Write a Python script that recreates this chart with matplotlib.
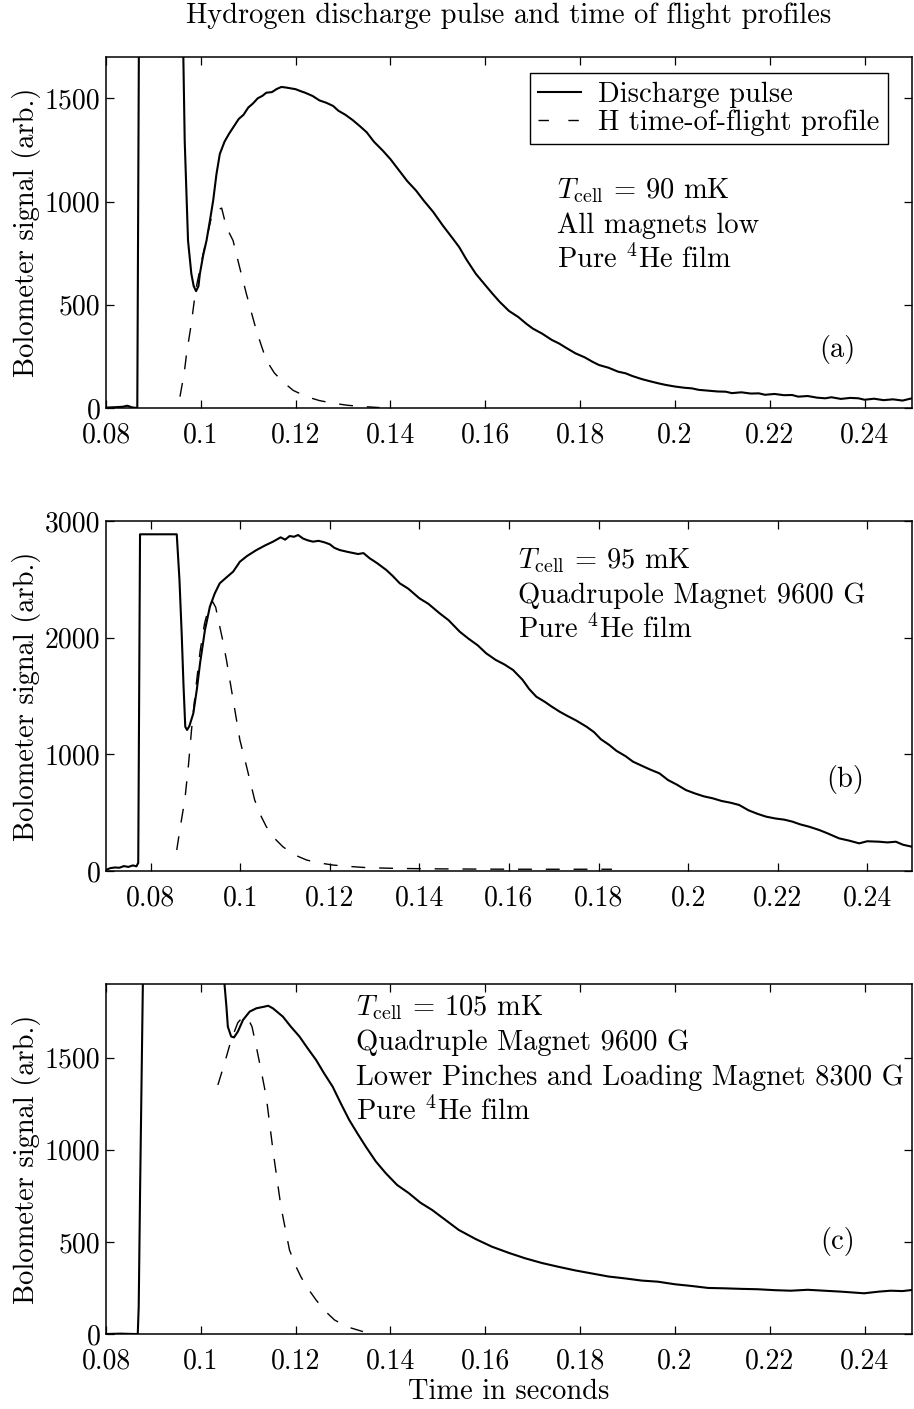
import matplotlib
matplotlib.use("Agg")
import matplotlib.pyplot as plt

plt.rcParams["font.family"] = ["cmr10", "DejaVu Serif"]
plt.rcParams["mathtext.fontset"] = "cm"
plt.rcParams["axes.formatter.use_mathtext"] = True
plt.rcParams["axes.unicode_minus"] = False

# ---------------- data ----------------
title = "Hydrogen discharge pulse and time of flight profiles"
xlabel = "Time in seconds"
ylabel = "Bolometer signal (arb.)"
legend_labels = ["Discharge pulse", "H time-of-flight profile"]

xticks = [0.08, 0.10, 0.12, 0.14, 0.16, 0.18, 0.20, 0.22, 0.24]
xticklabels = ["0.08", "0.1", "0.12", "0.14", "0.16", "0.18", "0.2", "0.22", "0.24"]

# panel (a)
a_pulse_t = [0.0800, 0.0820, 0.0835, 0.0845, 0.0855, 0.0866, 0.0871, 0.0958, 0.0961, 0.0966,
             0.0973, 0.0980, 0.0985, 0.0990, 0.0995, 0.0998, 0.1005, 0.1012, 0.1019, 0.1026,
             0.1033, 0.1040, 0.1050, 0.1060, 0.1068, 0.1080, 0.1090, 0.1100, 0.1110, 0.1120,
             0.1130, 0.1138, 0.1150, 0.1160, 0.1170, 0.1180, 0.1190, 0.1200, 0.1210, 0.1220,
             0.1236, 0.1250, 0.1265, 0.1279, 0.1290, 0.1305, 0.1320, 0.1335, 0.1350, 0.1365,
             0.1384, 0.1400, 0.1420, 0.1435, 0.1454, 0.1470, 0.1490, 0.1510, 0.1530, 0.1545,
             0.1560, 0.1580, 0.1600, 0.1615, 0.1630, 0.1650, 0.1670, 0.1686, 0.1700, 0.1720,
             0.1740, 0.1756, 0.1770, 0.1790, 0.1810, 0.1826, 0.1840, 0.1860, 0.1880, 0.1896,
             0.1910, 0.1930, 0.1950, 0.1966, 0.1980, 0.2000, 0.2020, 0.2036, 0.2050, 0.2070,
             0.2090, 0.2107, 0.2120, 0.2140, 0.2160, 0.2177, 0.2190, 0.2210, 0.2230, 0.2247,
             0.2260, 0.2280, 0.2300, 0.2317, 0.2330, 0.2350, 0.2370, 0.2387, 0.2400, 0.2420,
             0.2440, 0.2460, 0.2480, 0.2500]
a_pulse_v = [2, 4, 6, 11, 3, 0, 2600, 2600, 2000, 1294,
             811, 650, 590, 566, 590, 650, 740, 811, 905, 1004,
             1133, 1230, 1290, 1330, 1358, 1400, 1420, 1455, 1475, 1500,
             1512, 1527, 1530, 1545, 1555, 1552, 1548, 1544, 1535, 1527,
             1511, 1490, 1478, 1463, 1440, 1420, 1395, 1366, 1335, 1290,
             1246, 1205, 1145, 1100, 1053, 1005, 950, 885, 825, 779,
             720, 650, 595, 554, 515, 470, 440, 409, 385, 360,
             330, 312, 292, 265, 245, 224, 208, 195, 176, 168,
             155, 140, 128, 119, 112, 104, 98, 95, 88, 84,
             80, 79, 72, 76, 70, 71, 64, 68, 62, 63,
             55, 58, 50, 47, 52, 44, 49, 47, 40, 45,
             38, 42, 36, 47]
a_tof_t = [0.0956, 0.0965, 0.0970, 0.0980, 0.0989, 0.1005, 0.1023, 0.1035, 0.1044, 0.1054,
           0.1068, 0.1082, 0.1096, 0.1107, 0.1117, 0.1128, 0.1138, 0.1155, 0.1173, 0.1195,
           0.1223, 0.1250, 0.1279, 0.1310, 0.1349, 0.1377]
a_tof_v = [55, 170, 264, 409, 570, 747, 930, 960, 968, 875,
           811, 680, 554, 460, 377, 300, 232, 170, 127, 85,
           55, 36, 23, 13, 6, 2]

# panel (b)
b_pulse_t = [0.0700, 0.0710, 0.0720, 0.0730, 0.0740, 0.0750, 0.0760, 0.0768, 0.0772, 0.0776,
             0.0858, 0.0864, 0.0869, 0.0873, 0.0877, 0.0881, 0.0886, 0.0895, 0.0903, 0.0910,
             0.0921, 0.0932, 0.0943, 0.0954, 0.0970, 0.0984, 0.0999, 0.1015, 0.1036, 0.1055,
             0.1073, 0.1090, 0.1100, 0.1110, 0.1120, 0.1129, 0.1140, 0.1150, 0.1162, 0.1175,
             0.1188, 0.1200, 0.1210, 0.1222, 0.1240, 0.1263, 0.1275, 0.1289, 0.1305, 0.1326,
             0.1340, 0.1356, 0.1375, 0.1400, 0.1420, 0.1445, 0.1465, 0.1490, 0.1510, 0.1530,
             0.1549, 0.1570, 0.1590, 0.1609, 0.1630, 0.1645, 0.1661, 0.1680, 0.1695, 0.1713,
             0.1730, 0.1750, 0.1773, 0.1790, 0.1805, 0.1824, 0.1840, 0.1860, 0.1877, 0.1895,
             0.1915, 0.1936, 0.1955, 0.1975, 0.1995, 0.2015, 0.2035, 0.2055, 0.2075, 0.2095,
             0.2114, 0.2135, 0.2155, 0.2174, 0.2195, 0.2215, 0.2233, 0.2250, 0.2270, 0.2293,
             0.2310, 0.2337, 0.2360, 0.2382, 0.2400, 0.2427, 0.2445, 0.2464, 0.2480, 0.2500]
b_pulse_v = [10, 25, 30, 28, 42, 35, 48, 40, 70, 2886,
             2886, 2500, 2037, 1600, 1237, 1209, 1240, 1351, 1560, 1780,
             2066, 2266, 2380, 2466, 2520, 2566, 2651, 2700, 2751, 2790,
             2823, 2860, 2840, 2871, 2865, 2880, 2850, 2835, 2823, 2830,
             2817, 2800, 2770, 2751, 2735, 2717, 2725, 2680, 2640, 2580,
             2530, 2466, 2420, 2337, 2290, 2209, 2150, 2051, 1990, 1935,
             1866, 1810, 1770, 1723, 1640, 1560, 1494, 1450, 1410, 1366,
             1330, 1290, 1237, 1190, 1130, 1080, 1030, 985, 937, 905,
             870, 837, 780, 740, 694, 665, 640, 623, 600, 585,
             566, 520, 490, 466, 450, 440, 423, 400, 380, 351,
             325, 280, 260, 237, 255, 251, 245, 251, 225, 208]
b_tof_t = [0.0858, 0.0866, 0.0876, 0.0884, 0.0891, 0.0900, 0.0910, 0.0920, 0.0930, 0.0938,
           0.0945, 0.0950, 0.0960, 0.0969, 0.0984, 0.0999, 0.1014, 0.1032, 0.1045, 0.1058,
           0.1075, 0.1095, 0.1120, 0.1148, 0.1175, 0.1207, 0.1240, 0.1281, 0.1350, 0.1450,
           0.1550, 0.1650, 0.1750, 0.1830]
b_tof_v = [180, 380, 609, 900, 1209, 1550, 1880, 2120, 2270, 2310,
           2260, 2166, 1990, 1809, 1466, 1123, 894, 609, 480, 380,
           285, 208, 140, 94, 70, 51, 40, 29, 22, 18,
           16, 15, 15, 15]

# panel (c)
c_pulse_t = [0.0800, 0.0830, 0.0860, 0.0867, 0.0869, 0.0872, 0.0878, 0.0880, 0.1045, 0.1050,
             0.1054, 0.1057, 0.1064, 0.1070, 0.1078, 0.1089, 0.1103, 0.1117, 0.1134, 0.1142,
             0.1152, 0.1173, 0.1190, 0.1208, 0.1225, 0.1243, 0.1260, 0.1278, 0.1295, 0.1313,
             0.1330, 0.1348, 0.1369, 0.1390, 0.1414, 0.1439, 0.1463, 0.1488, 0.1516, 0.1544,
             0.1580, 0.1614, 0.1650, 0.1684, 0.1720, 0.1754, 0.1790, 0.1824, 0.1860, 0.1894,
             0.1930, 0.1964, 0.2000, 0.2034, 0.2070, 0.2104, 0.2140, 0.2174, 0.2210, 0.2244,
             0.2280, 0.2315, 0.2350, 0.2399, 0.2430, 0.2455, 0.2480, 0.2500]
c_pulse_v = [0, 2, 0, 0, 150, 800, 1950, 2600, 2600, 1897,
             1777, 1668, 1615, 1610, 1641, 1705, 1750, 1768, 1777, 1782,
             1768, 1723, 1668, 1615, 1552, 1488, 1415, 1343, 1253, 1162,
             1090, 1017, 937, 873, 809, 764, 713, 673, 619, 565,
             515, 474, 440, 411, 385, 365, 345, 329, 312, 302,
             290, 284, 270, 261, 250, 248, 245, 243, 238, 235,
             240, 235, 230, 221, 230, 235, 233, 239]
c_tof_t = [0.1036, 0.1050, 0.1064, 0.1078, 0.1090, 0.1100, 0.1108, 0.1117, 0.1128, 0.1138,
           0.1153, 0.1169, 0.1187, 0.1200, 0.1211, 0.1225, 0.1243, 0.1262, 0.1282, 0.1310,
           0.1342]
c_tof_v = [1352, 1470, 1596, 1690, 1725, 1710, 1668, 1560, 1420, 1288,
           981, 691, 456, 370, 311, 250, 185, 125, 76, 38,
           13]

panels = [
    dict(pt=a_pulse_t, pv=a_pulse_v, tt=a_tof_t, tv=a_tof_v, xlim=(0.08, 0.25), ylim=(0, 1700),
         yticks=[0, 500, 1000, 1500], tag="(a)",
         notes=[r"$T_{\rm cell}$ = 90 mK", "All magnets low", r"Pure $^4$He film"]),
    dict(pt=b_pulse_t, pv=b_pulse_v, tt=b_tof_t, tv=b_tof_v, xlim=(0.07, 0.25), ylim=(0, 3000),
         yticks=[0, 1000, 2000, 3000], tag="(b)",
         notes=[r"$T_{\rm cell}$ = 95 mK", "Quadrupole Magnet 9600 G", r"Pure $^4$He film"]),
    dict(pt=c_pulse_t, pv=c_pulse_v, tt=c_tof_t, tv=c_tof_v, xlim=(0.08, 0.25), ylim=(0, 1900),
         yticks=[0, 500, 1000, 1500], tag="(c)",
         notes=[r"$T_{\rm cell}$ = 105 mK", "Quadruple Magnet 9600 G",
                "Lower Pinches and Loading Magnet 8300 G", r"Pure $^4$He film"]),
]

# ---------------- layout ----------------
W, H = 914, 1409
fig = plt.figure(figsize=(W / 100, H / 100), dpi=100)
FS = 20.5
TFS = 20

def px_axes(left, top, right, bottom):
    return fig.add_axes([left / W, 1 - bottom / H, (right - left) / W, (bottom - top) / H])

boxes = [(106, 57, 912, 408), (106, 521, 912, 871), (106, 984, 912, 1334)]
note_pos = [
    (0.5596, [0.597, 0.498, 0.398]),
    (0.5116, [0.866, 0.766, 0.666]),
    (0.310, [0.911, 0.811, 0.711, 0.611]),
]
tag_pos = [(0.908, 0.168), (0.917, 0.26), (0.908, 0.264)]

for i, (p, box) in enumerate(zip(panels, boxes)):
    ax = px_axes(*box)
    l1, = ax.plot(p["pt"], p["pv"], color="black", lw=1.5, solid_joinstyle="round")
    l2, = ax.plot(p["tt"], p["tv"], color="black", lw=1.0, dashes=(10, 10))
    ax.set_xlim(*p["xlim"])
    ax.set_ylim(*p["ylim"])
    ax.set_xticks(xticks)
    ax.set_xticklabels(xticklabels)
    ax.set_yticks(p["yticks"])
    ax.set_yticklabels([str(v) for v in p["yticks"]])
    ax.tick_params(direction="in", length=6, width=0.9, top=True, right=True,
                   labelsize=TFS)
    ax.tick_params(axis="x", pad=10)
    ax.tick_params(axis="y", pad=4)
    for s in ax.spines.values():
        s.set_linewidth(1.1)
    ax.set_ylabel(ylabel, fontsize=FS, labelpad=3)
    xn, ys = note_pos[i]
    for line, y in zip(p["notes"], ys):
        ax.text(xn, y, line, transform=ax.transAxes, fontsize=FS, ha="left", va="baseline")
    tx, ty = tag_pos[i]
    ax.text(tx, ty, p["tag"], transform=ax.transAxes, fontsize=FS, ha="center", va="center")
    if i == 0:
        leg = ax.legend([l1, l2], legend_labels, loc="upper right",
                        bbox_to_anchor=(0.970, 0.954), borderaxespad=0.0, fontsize=FS,
                        frameon=True, fancybox=False, edgecolor="black", framealpha=1,
                        handlelength=1.5, borderpad=0.3, labelspacing=0.05,
                        handletextpad=0.6)
        leg.get_frame().set_linewidth(1.0)
        leg.legend_handles[1].set_dashes((7.5, 14))
    if i == 2:
        ax.set_xlabel(xlabel, fontsize=FS, labelpad=3)

fig.text(509 / W, 1 - 16 / H, title, fontsize=FS, ha="center", va="center")

fig.savefig("out.png", dpi=100)
